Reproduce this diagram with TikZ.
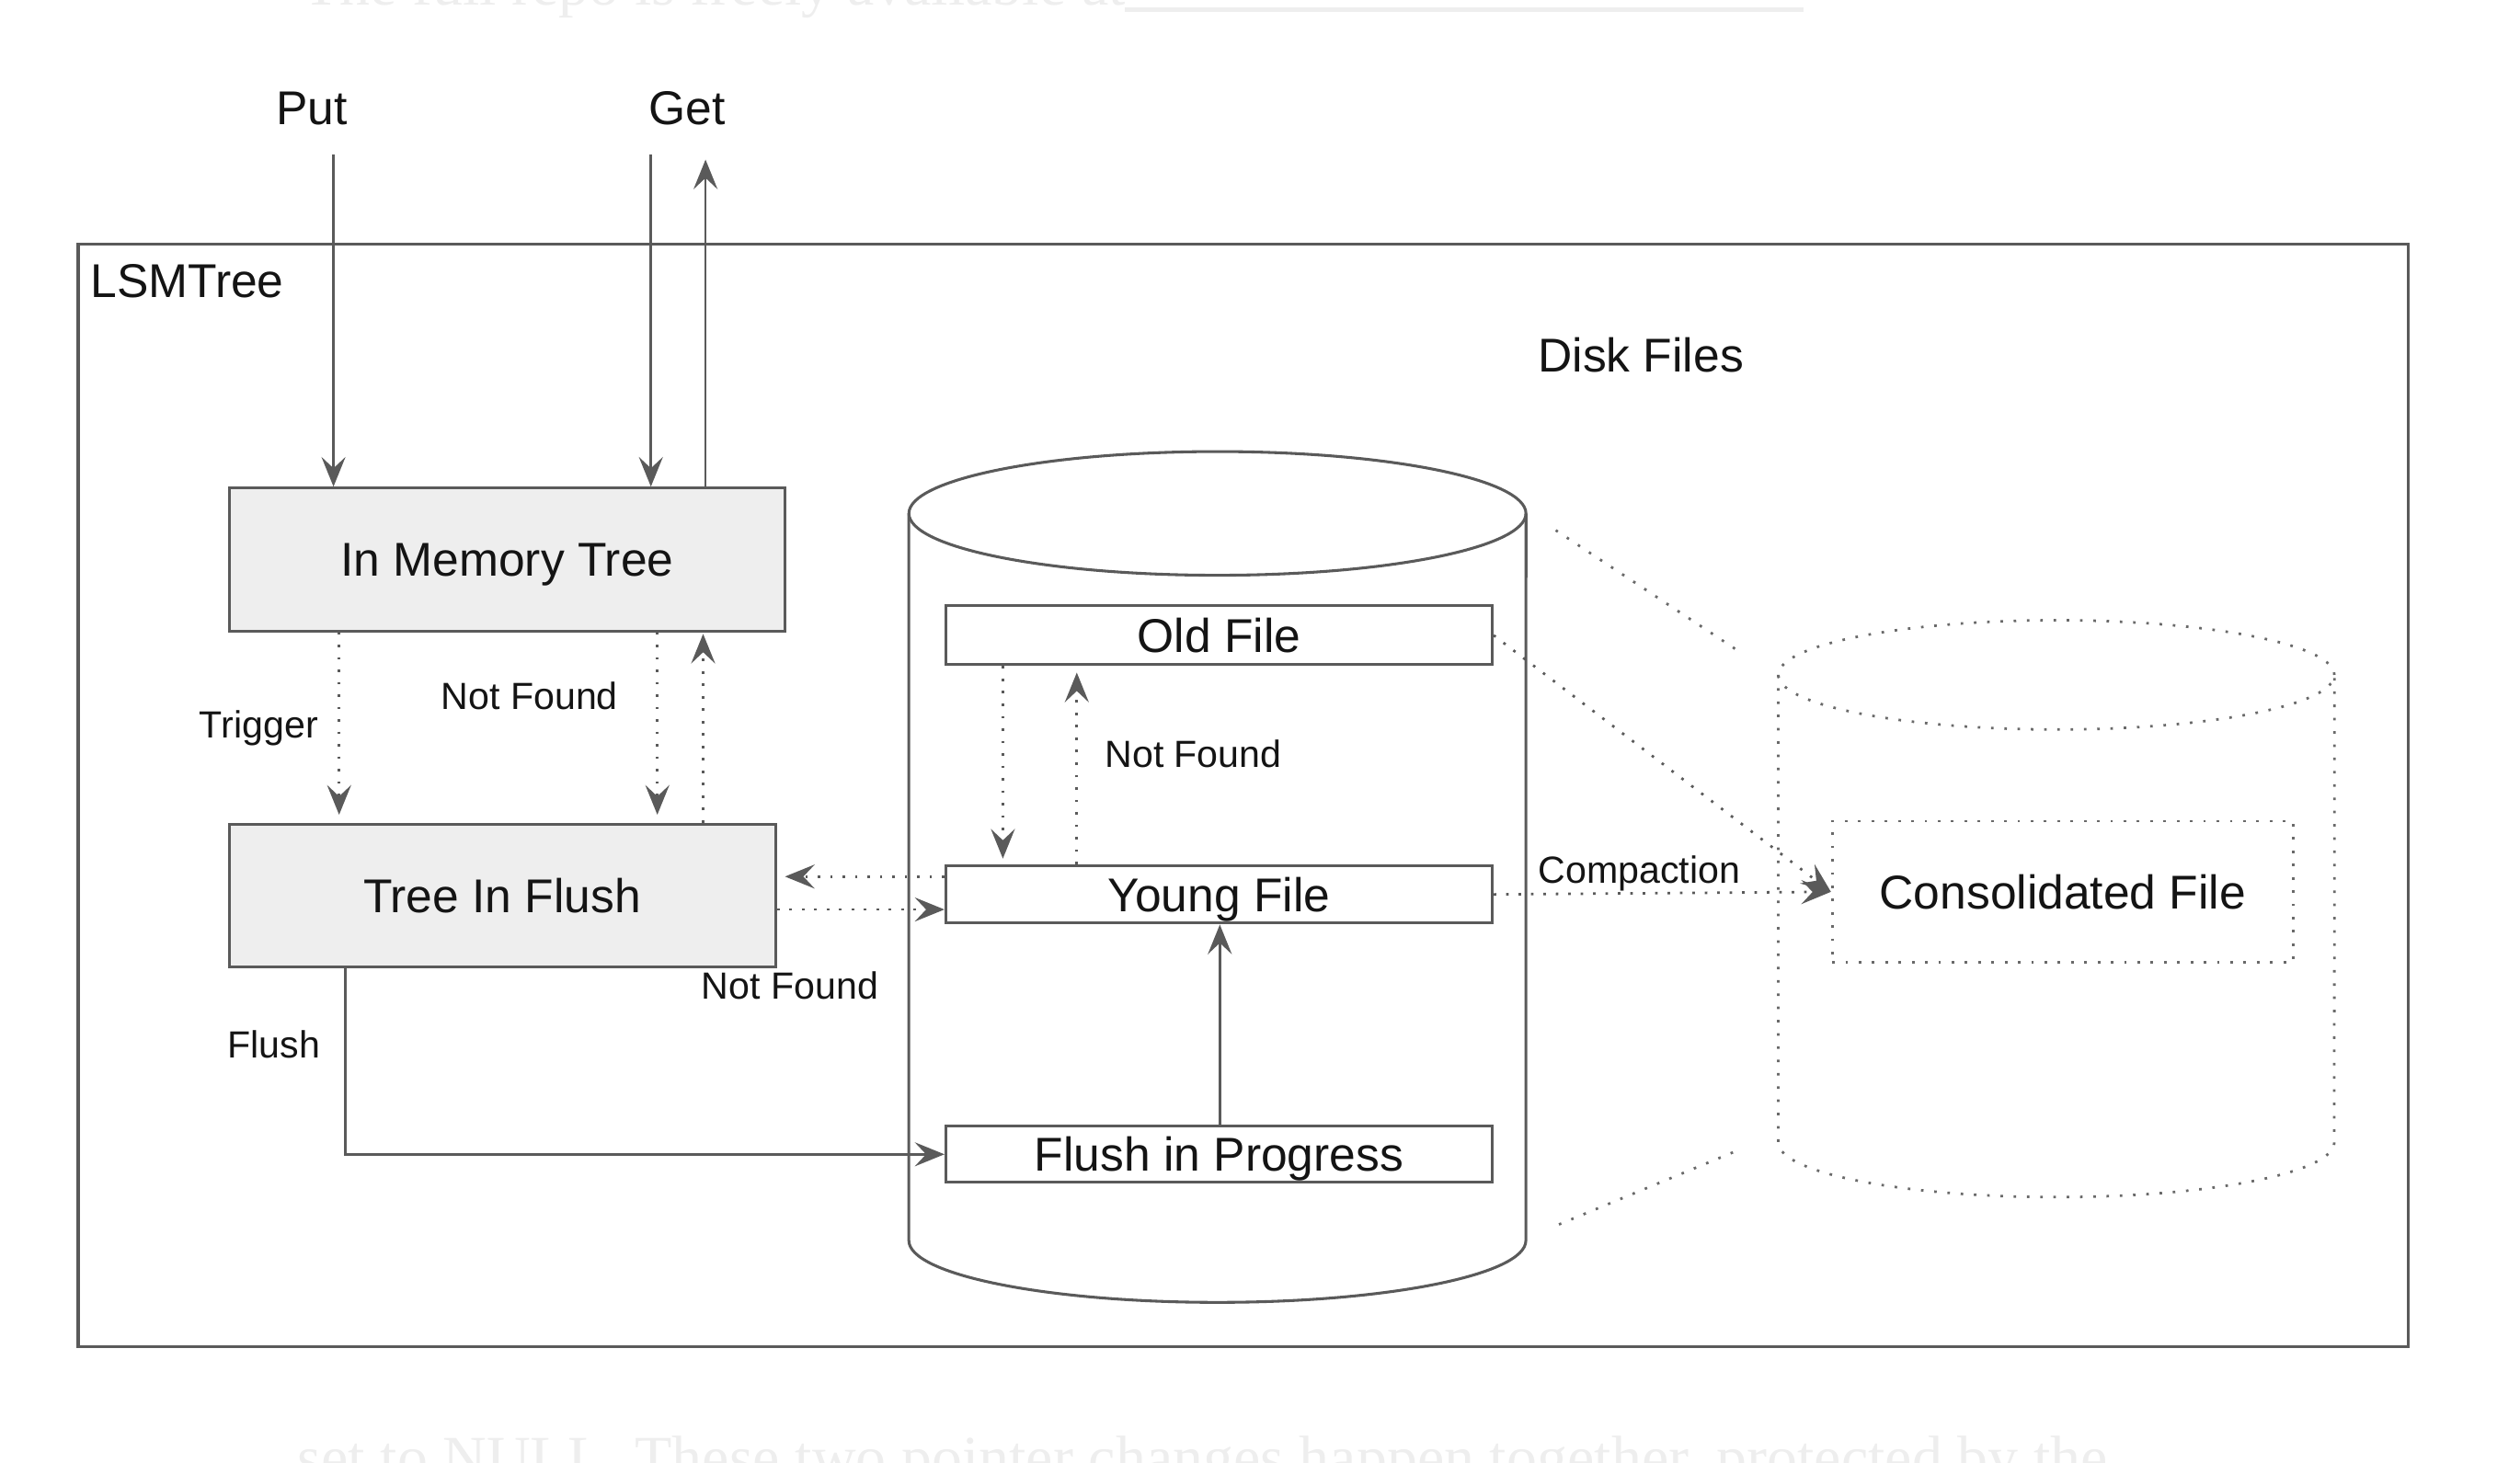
\documentclass[tikz,border=0pt]{standalone}
\usepackage{fontspec}
\setmainfont{Liberation Sans}
\newfontfamily\bgserif{Liberation Serif}
\usetikzlibrary{arrows.meta,calc}
\definecolor{ln}{RGB}{90,90,90}
\definecolor{dotc}{RGB}{105,105,105}
\definecolor{boxfill}{RGB}{238,238,238}
\definecolor{txt}{RGB}{20,20,20}
\definecolor{bgtxt}{RGB}{238,238,238}
\begin{document}
\begin{tikzpicture}[x=0.02cm, y=-0.02cm,
  bigfont/.style={font=\fontsize{16.8}{20}\selectfont},
  smallfont/.style={font=\fontsize{13.4}{16}\selectfont},
  lbl/.style={bigfont, text=txt, inner sep=0pt},
  slbl/.style={smallfont, text=txt, inner sep=0pt},
  membox/.style={draw=ln, line width=1pt, fill=boxfill, bigfont, text=txt, inner sep=0pt, text height=12pt, text depth=0pt},
  filebox/.style={draw=ln, line width=1pt, fill=white, bigfont, text=txt, inner sep=0pt, text height=12pt, text depth=0pt, minimum width=6.8cm},
  arrtip/.style={-{Stealth[length=10.5pt,width=8.5pt,inset=4pt]}},
  solidarr/.style={draw=ln, line width=0.8pt, arrtip},
  dotarr/.style={draw=ln, line width=0.9pt, dash pattern=on 0.9pt off 3.5pt, arrtip},
  dotline/.style={draw=dotc, line width=0.9pt, dash pattern=on 0.9pt off 3.8pt},
  cylline/.style={draw=ln, line width=1pt},
  bgline/.style={anchor=base west, inner sep=0pt, text=bgtxt, font=\bgserif\fontsize{21.5}{26}\selectfont},
]
\useasboundingbox (0,0) rectangle (1568,910);

% faint page text of the screenshot background
\node[bgline] (bgtop) at (188,3) {The full repo is freely available at};
\coordinate (ulA) at (700,6);
\coordinate (ulB) at (1122,6);
\draw[bgtxt, line width=1.5pt] (ulA) -- (ulB);
\node[bgline] (bgbot) at (185,920) {set to NULL. These two pointer changes happen together, protected by the};

% outer frame
\node[draw=ln, line width=1pt, minimum width=29cm, minimum height=13.72cm, inner sep=0pt] (lsm) at (773.5,495) {};
\node[lbl, anchor=base west] (lsmlbl) at (56,185.4) {LSMTree};
\node[lbl, anchor=base] (disklbl) at (1021,231.5) {Disk Files};
\node[lbl, anchor=base] (put) at (194,77.4) {Put};
\node[lbl, anchor=base] (get) at (427.5,77.4) {Get};

% memory boxes
\node[membox, minimum width=6.92cm, minimum height=1.778cm] (imt) at (315.5,348.15) {In Memory Tree};
\node[membox, minimum width=6.802cm, minimum height=1.78cm] (tif) at (312.55,557.4) {Tree In Flush};

% disk cylinder
\draw[cylline] (565.5,319.5) -- (565.5,772) arc[start angle=180, end angle=360, x radius=3.84cm, y radius=0.77cm] -- (949.5,319.5);
\draw[cylline] (757.5,319.5) ellipse [x radius=3.84cm, y radius=0.77cm];

\node[filebox, minimum height=0.734cm] (old) at (758.5,395.35) {Old File};
\node[filebox, minimum height=0.716cm] (young) at (758.5,556.6) {Young File};
\node[filebox, minimum height=0.70cm] (fip) at (758.5,718.35) {Flush in Progress};

% consolidated cylinder (dotted)
\draw[dotline] (1106.5,420) -- (1106.5,711) arc[start angle=180, end angle=360, x radius=3.46cm, y radius=0.68cm] -- (1452.5,420);
\draw[dotline] (1279.5,420) ellipse [x radius=3.46cm, y radius=0.68cm];
\node[draw=dotc, line width=0.9pt, dash pattern=on 0.9pt off 3.8pt, bigfont, text=txt, text height=12pt, text depth=0pt, inner sep=0pt, minimum width=5.74cm, minimum height=1.76cm] (cons) at (1283.5,555) {Consolidated File};

% small labels
\node[slbl, anchor=base] (lblTrig) at (161,459) {Trigger};
\node[slbl, anchor=base] (lblNF1) at (329.5,441.5) {Not Found};
\node[slbl, anchor=base] (lblNF2) at (742.5,477.5) {Not Found};
\node[slbl, anchor=base] (lblNF3) at (491.5,621.5) {Not Found};
\node[slbl, anchor=base] (lblFlush) at (170.5,658.5) {Flush};
\node[slbl, anchor=base] (lblComp) at (1020,549.5) {Compaction};

% connectors
\coordinate (putTop) at (207.5,96.3);
\coordinate (getTopIn) at (405,96.3);
\coordinate (getTopOut) at (439,99.3);
\draw[solidarr] (putTop) -- (putTop |- imt.north);
\draw[solidarr] (getTopIn) -- (getTopIn |- imt.north);
\draw[solidarr] (getTopOut |- imt.north) -- (getTopOut);

\draw[dotarr, shorten >=0.1cm] (imt.south -| 211,0) -- (tif.north -| 211,0);
\draw[dotarr, shorten >=0.1cm] (imt.south -| 409,0) -- (tif.north -| 409,0);
\draw[dotarr, shorten >=0.02cm] (tif.north -| 437.5,0) -- (imt.south -| 437.5,0);

\draw[dotarr, shorten >=0.1cm] (young.west |- 0,545.5) -- (tif.east |- 0,545.5);
\draw[dotarr] (tif.east |- 0,566) -- (young.west |- 0,566);
\draw[solidarr] (tif.south -| 215,0) |- (fip.west);
\draw[solidarr] (fip.north -| 759,0) -- (young.south -| 759,0);
\draw[dotarr, shorten >=0.07cm] (old.south -| 624,0) -- (young.north -| 624,0);
\draw[dotarr, shorten >=0.08cm] (young.north -| 670,0) -- (old.south -| 670,0);
\draw[dotarr] (young.east) -- (cons.west);
\draw[dotarr] (old.east) -- (cons.west);

\coordinate (zA1) at (968,330);
\coordinate (zA2) at (1083,406);
\coordinate (zB1) at (970,762);
\coordinate (zB2) at (1081,716);
\draw[dotline] (zA1) -- (zA2);
\draw[dotline] (zB1) -- (zB2);
\end{tikzpicture}
\end{document}
